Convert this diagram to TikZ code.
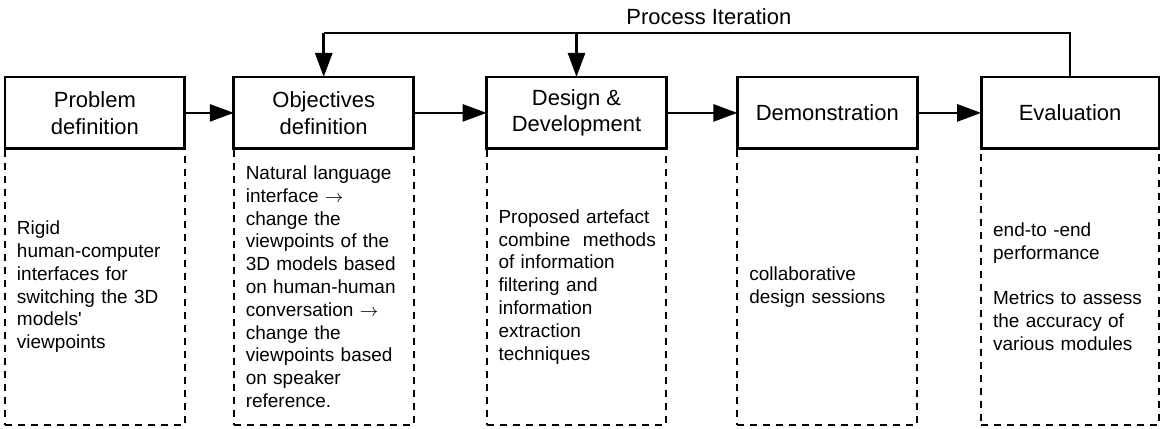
\documentclass[tikz,border=0pt]{standalone}
\usepackage{fontspec}
\setmainfont{Liberation Sans}
\usetikzlibrary{arrows.meta,positioning}

\begin{document}
\begin{tikzpicture}[node distance=24pt,
    >={Triangle[length=12pt, width=8.5pt]},
    stage/.style={rectangle, draw, line width=1.4pt, outer sep=0pt, minimum width=90pt, minimum height=36pt, align=center, font=\fontsize{11}{13.3}\selectfont},
    note/.style={rectangle, draw, line width=1pt, dash pattern=on 3.5pt off 3pt, outer sep=0pt, minimum width=90pt, minimum height=138pt, text width=78pt, inner xsep=6pt, align=left, font=\fontsize{9.5}{11.4}\selectfont},
    link/.style={line width=1.4pt}]

    \useasboundingbox (0,0) rectangle (581pt,-214.2pt);

    % Stages
    \node[stage, anchor=north west] (prob) at (2.5pt,-38.5pt) {Problem\\definition};
    \node[stage, right=24.5pt of prob] (obj) {Objectives\\definition};
    \node[stage, right=36.5pt of obj] (dev) {Design \&\\Development};
    \node[stage, right=35.5pt of dev] (demo) {Demonstration};
    \node[stage, right=32pt of demo, minimum width=89pt] (eval) {Evaluation};

    % Notes
    \node[note, below=0pt of prob] (probnote) {Rigid\\human-computer\\interfaces for\\switching the 3D\\models\textquotesingle\\viewpoints};
    \node[note, below=0pt of obj] (objnote) {Natural language\\interface $\rightarrow$\\change the\\viewpoints of the\\3D models based\\on human-human\\conversation $\rightarrow$\\change the\\viewpoints based\\on speaker\\reference.};
    \node[note, below=0pt of dev] (devnote) {Proposed artefact\\\mbox{combine~ methods}\\of information\\filtering and\\information\\extraction\\techniques};
    \node[note, below=0pt of demo] (demonote) {collaborative\\design sessions};
    \node[note, below=0pt of eval, minimum width=89pt, text width=77pt] (evalnote) {end-to -end\\performance\\[11.4pt]Metrics to assess\\the accuracy of\\various modules};

    % Connections
    \draw[link, ->] (prob) -- (obj);
    \draw[link, ->] (obj) -- (dev);
    \draw[link, ->] (dev) -- (demo);
    \draw[link, ->] (demo) -- (eval);

    % Iteration
    \path (obj.north) ++(0,22pt) coordinate (iter);
    \draw[link] (eval.north) |- (iter) node[pos=0.742, above, font=\fontsize{11}{13.3}\selectfont] (itertext) {Process Iteration};
    \draw[link, ->] (iter) -- (obj);
    \draw[link, ->] (dev.north |- iter) -- (dev);

\end{tikzpicture}
\end{document}
